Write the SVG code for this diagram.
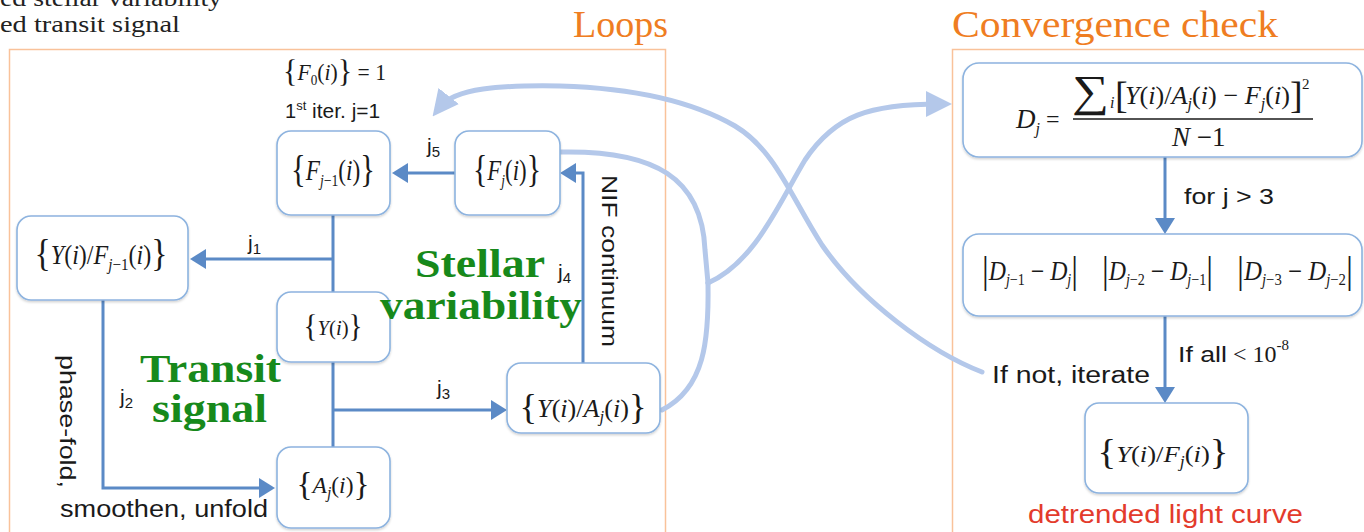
<svg xmlns="http://www.w3.org/2000/svg" width="1364" height="532" viewBox="0 0 1364 532">
  <style>
    .panel { fill: none; stroke: #f9c29a; stroke-width: 1.5; }
    .ptitle { font-family: "Liberation Serif", "Times New Roman", serif; font-size: 38px; fill: #ef7d22; }
    .box { fill: #ffffff; stroke: #8db3df; stroke-width: 1.6; filter: url(#sh); }
    .m { font-family: "Liberation Serif", "Times New Roman", "DejaVu Serif", serif; fill: #1a1a1a; }
    .it { font-style: italic; }
    .s { font-family: "Liberation Sans", Arial, sans-serif; fill: #1a1a1a; }
    .green { font-family: "Liberation Serif", "Times New Roman", serif; font-weight: bold; font-size: 39px; fill: #17891b; }
    .note { font-family: "Liberation Serif", "Times New Roman", serif; font-size: 23px; fill: #222; }
    .flow { fill: none; stroke: #5b8ac6; stroke-width: 3; marker-end: url(#ah); }
    .trunk { fill: none; stroke: #5b8ac6; stroke-width: 3; }
    .loop { fill: none; stroke: #b4c8ea; stroke-width: 5; stroke-linecap: round; }
  </style>
  <defs>
    <filter id="sh" x="-10%" y="-10%" width="120%" height="130%">
      <feDropShadow dx="0" dy="1.5" stdDeviation="1" flood-color="#000" flood-opacity="0.18"/>
    </filter>
    <marker id="ah" markerUnits="userSpaceOnUse" markerWidth="16" markerHeight="20" refX="6" refY="10" orient="auto">
      <path d="M0,0 L16,10 L0,20 z" fill="#5b8ac6"/>
    </marker>
    <marker id="ahl" markerUnits="userSpaceOnUse" markerWidth="26" markerHeight="26" refX="14" refY="13" orient="auto">
      <path d="M0,0 L26,13 L0,26 z" fill="#b4c8ea"/>
    </marker>
  </defs>

  <rect width="1364" height="532" fill="#ffffff"/>

  <!-- clipped caption lines at the top left -->
  <text class="note" x="0" y="6" textLength="222" lengthAdjust="spacingAndGlyphs">ed stellar variability</text>
  <text class="note" x="0" y="32" textLength="180" lengthAdjust="spacingAndGlyphs">ed transit signal</text>

  <!-- panels -->
  <g id="panel-loops">
    <rect class="panel" x="9.5" y="49.5" width="656" height="500"/>
    <text class="ptitle" x="668" y="37" text-anchor="end">Loops</text>
  </g>
  <g id="panel-convergence">
    <rect class="panel" x="952.5" y="49.5" width="430" height="500"/>
    <text class="ptitle" x="952" y="37" textLength="326" lengthAdjust="spacingAndGlyphs">Convergence check</text>
  </g>

  <!-- connectors -->
  <g id="connectors">
    <path class="flow" d="M455,173 L402,173"/>
    <path class="trunk" d="M333,215 L333,292 M333,362 L333,447"/>
    <path class="flow" d="M333,259 L200,259"/>
    <path class="flow" d="M333,410 L497,410"/>
    <path class="flow" d="M103,300 L103,488 L265,488"/>
    <path class="flow" d="M583,363 L583,173 L570,173"/>
    <path class="flow" d="M1165,157 L1165,224"/>
    <path class="flow" d="M1165,316 L1165,393"/>

    <!-- outputs of the loop gathered and sent to the convergence check -->
    <path class="loop" d="M560,152 C655,150 702,178 705,250 L708,283"/>
    <path class="loop" d="M708,283 C709,340 705,388 662,410"/>
    <path class="loop" marker-end="url(#ahl)" d="M708,283 C755,262 778,205 805,160 C835,115 870,104 940,104"/>
    <!-- iterate again -->
    <path class="loop" marker-end="url(#ahl)" d="M982,372 C930,352 860,300 822,245 C790,195 775,150 735,126 C690,100 630,88 560,86 C500,85 455,88 440,107"/>

    <!-- connector labels -->
    <text class="s" x="427" y="153" font-size="21">j<tspan font-size="15" dy="4">5</tspan></text>
    <text class="s" x="248" y="250" font-size="21">j<tspan font-size="15" dy="4">1</tspan></text>
    <text class="s" x="120" y="404" font-size="21">j<tspan font-size="15" dy="4">2</tspan></text>
    <text class="s" x="437" y="395" font-size="21">j<tspan font-size="15" dy="4">3</tspan></text>
    <text class="s" x="558" y="279" font-size="21">j<tspan font-size="15" dy="4">4</tspan></text>
    <text class="s" font-size="22" transform="translate(602,175) rotate(90)" textLength="172" lengthAdjust="spacingAndGlyphs">NIF continuum</text>
    <text class="s" font-size="22" transform="translate(60,355) rotate(90)" textLength="133" lengthAdjust="spacingAndGlyphs">phase-fold,</text>
    <text class="s" x="60" y="517" font-size="23" textLength="208" lengthAdjust="spacingAndGlyphs">smoothen, unfold</text>
    <text class="s" x="1184" y="204" font-size="22" textLength="90" lengthAdjust="spacingAndGlyphs">for j &gt; 3</text>
    <text class="s" x="1178" y="362" font-size="22" textLength="49" lengthAdjust="spacingAndGlyphs">If all</text>
    <text class="m" x="1233" y="362" font-size="24">&lt; 10<tspan font-size="15" dy="-12">-8</tspan></text>
    <text class="s" x="992" y="383" font-size="23" textLength="158" lengthAdjust="spacingAndGlyphs">If not, iterate</text>
  </g>

  <!-- start values -->
  <g id="start">
    <text class="m" x="283" y="80" font-size="23" textLength="103" lengthAdjust="spacingAndGlyphs"><tspan font-size="32" dy="2">{</tspan><tspan class="it" dy="-2">F</tspan><tspan font-size="14" dy="5">0</tspan><tspan dy="-5">(</tspan><tspan class="it">i</tspan>)<tspan font-size="32" dy="2">}</tspan><tspan dy="-2"> = 1</tspan></text>
    <text class="s" x="285" y="118" font-size="20">1<tspan font-size="13" dy="-8">st</tspan><tspan dy="8" textLength="74" lengthAdjust="spacingAndGlyphs"> iter. j=1</tspan></text>
  </g>

  <!-- nodes of the loop -->
  <g id="node-Fjm1">
    <rect class="box" x="277" y="131" width="113" height="84" rx="14"/>
    <text class="m" x="333" y="180" font-size="29" text-anchor="middle" textLength="84" lengthAdjust="spacingAndGlyphs"><tspan font-size="38" dy="2">{</tspan><tspan class="it" dy="-2">F</tspan><tspan class="it" font-size="17" dy="6">j</tspan><tspan font-size="17">−1</tspan><tspan dy="-6">(</tspan><tspan class="it">i</tspan>)<tspan font-size="38" dy="2">}</tspan></text>
  </g>
  <g id="node-Fj">
    <rect class="box" x="455" y="131" width="105" height="84" rx="14"/>
    <text class="m" x="507" y="180" font-size="29" text-anchor="middle" textLength="68" lengthAdjust="spacingAndGlyphs"><tspan font-size="38" dy="2">{</tspan><tspan class="it" dy="-2">F</tspan><tspan class="it" font-size="17" dy="6">j</tspan><tspan dy="-6">(</tspan><tspan class="it">i</tspan>)<tspan font-size="38" dy="2">}</tspan></text>
  </g>
  <g id="node-YFjm1">
    <rect class="box" x="17" y="216" width="171" height="84" rx="14"/>
    <text class="m" x="101" y="264" font-size="27" text-anchor="middle" textLength="133" lengthAdjust="spacingAndGlyphs"><tspan font-size="38" dy="2">{</tspan><tspan class="it" dy="-2">Y</tspan>(<tspan class="it">i</tspan>)/<tspan class="it">F</tspan><tspan class="it" font-size="17" dy="6">j</tspan><tspan font-size="17">−1</tspan><tspan dy="-6">(</tspan><tspan class="it">i</tspan>)<tspan font-size="38" dy="2">}</tspan></text>
  </g>
  <g id="node-Y">
    <rect class="box" x="277" y="292" width="113" height="70" rx="14"/>
    <text class="m" x="333" y="335" font-size="22" text-anchor="middle" textLength="59" lengthAdjust="spacingAndGlyphs"><tspan font-size="31" dy="2">{</tspan><tspan class="it" dy="-2">Y</tspan>(<tspan class="it">i</tspan>)<tspan font-size="31" dy="2">}</tspan></text>
  </g>
  <g id="node-Aj">
    <rect class="box" x="277" y="447" width="113" height="81" rx="14"/>
    <text class="m" x="333" y="493" font-size="24" text-anchor="middle" textLength="73" lengthAdjust="spacingAndGlyphs"><tspan font-size="34" dy="2">{</tspan><tspan class="it" dy="-2">A</tspan><tspan class="it" font-size="16" dy="5">j</tspan><tspan dy="-5">(</tspan><tspan class="it">i</tspan>)<tspan font-size="34" dy="2">}</tspan></text>
  </g>
  <g id="node-YAj">
    <rect class="box" x="507" y="363" width="153" height="70" rx="14"/>
    <text class="m" x="583" y="417" font-size="25" text-anchor="middle" textLength="127" lengthAdjust="spacingAndGlyphs"><tspan font-size="35" dy="2">{</tspan><tspan class="it" dy="-2">Y</tspan>(<tspan class="it">i</tspan>)/<tspan class="it">A</tspan><tspan class="it" font-size="16" dy="5">j</tspan><tspan dy="-5">(</tspan><tspan class="it">i</tspan>)<tspan font-size="35" dy="2">}</tspan></text>
  </g>

  <!-- region labels -->
  <g id="labels">
    <text class="green" x="415" y="277" textLength="130" lengthAdjust="spacingAndGlyphs">Stellar</text>
    <text class="green" x="380" y="319" textLength="202" lengthAdjust="spacingAndGlyphs">variability</text>
    <text class="green" x="140" y="382" textLength="141" lengthAdjust="spacingAndGlyphs">Transit</text>
    <text class="green" x="152" y="422" textLength="115" lengthAdjust="spacingAndGlyphs">signal</text>
  </g>

  <!-- nodes of the convergence check -->
  <g id="node-Dj">
    <rect class="box" x="963" y="63" width="399" height="94" rx="16"/>
    <text class="m it" x="1016" y="128" font-size="27">D<tspan font-size="16" dy="6">j</tspan></text>
    <text class="m" x="1046" y="127" font-size="24">=</text>
    <line x1="1073" y1="119" x2="1313" y2="119" stroke="#1a1a1a" stroke-width="1.3"/>
    <text class="m" x="1072" y="106" font-size="44" textLength="37" lengthAdjust="spacingAndGlyphs">∑</text>
    <text class="m it" x="1110" y="108" font-size="16">i</text>
    <text class="m" x="1115" y="108" font-size="38">[</text>
    <text class="m" x="1125" y="104" font-size="26" textLength="165" lengthAdjust="spacingAndGlyphs"><tspan class="it">Y</tspan>(<tspan class="it">i</tspan>)/<tspan class="it">A</tspan><tspan class="it" font-size="16" dy="5">j</tspan><tspan dy="-5">(</tspan><tspan class="it">i</tspan>) − <tspan class="it">F</tspan><tspan class="it" font-size="16" dy="5">j</tspan><tspan dy="-5">(</tspan><tspan class="it">i</tspan>)</text>
    <text class="m" x="1290" y="108" font-size="38">]</text>
    <text class="m" x="1302" y="89" font-size="15">2</text>
    <text class="m" x="1172" y="146" font-size="27"><tspan class="it">N</tspan> −1</text>
  </g>
  <g id="node-diffs">
    <rect class="box" x="963" y="234" width="399" height="82" rx="16"/>
    <text class="m" x="982" y="280" font-size="27" textLength="96" lengthAdjust="spacingAndGlyphs"><tspan font-size="38" dy="3">|</tspan><tspan class="it" dy="-3">D</tspan><tspan class="it" font-size="16" dy="5">j</tspan><tspan font-size="16">−1</tspan><tspan dy="-5"> − </tspan><tspan class="it">D</tspan><tspan class="it" font-size="16" dy="5">j</tspan><tspan font-size="38" dy="-2">|</tspan></text>
    <text class="m" x="1102" y="280" font-size="27" textLength="111" lengthAdjust="spacingAndGlyphs"><tspan font-size="38" dy="3">|</tspan><tspan class="it" dy="-3">D</tspan><tspan class="it" font-size="16" dy="5">j</tspan><tspan font-size="16">−2</tspan><tspan dy="-5"> − </tspan><tspan class="it">D</tspan><tspan class="it" font-size="16" dy="5">j</tspan><tspan font-size="16">−1</tspan><tspan font-size="38" dy="-2">|</tspan></text>
    <text class="m" x="1237" y="280" font-size="27" textLength="116" lengthAdjust="spacingAndGlyphs"><tspan font-size="38" dy="3">|</tspan><tspan class="it" dy="-3">D</tspan><tspan class="it" font-size="16" dy="5">j</tspan><tspan font-size="16">−3</tspan><tspan dy="-5"> − </tspan><tspan class="it">D</tspan><tspan class="it" font-size="16" dy="5">j</tspan><tspan font-size="16">−2</tspan><tspan font-size="38" dy="-2">|</tspan></text>
  </g>
  <g id="node-YFj">
    <rect class="box" x="1085" y="403" width="163" height="90" rx="14"/>
    <text class="m" x="1163" y="462" font-size="24" text-anchor="middle" textLength="131" lengthAdjust="spacingAndGlyphs"><tspan font-size="35" dy="2">{</tspan><tspan class="it" dy="-2">Y</tspan>(<tspan class="it">i</tspan>)/<tspan class="it">F</tspan><tspan class="it" font-size="16" dy="5">j</tspan><tspan dy="-5">(</tspan><tspan class="it">i</tspan>)<tspan font-size="35" dy="2">}</tspan></text>
    <text class="s" x="1028" y="523" font-size="25" style="fill:#e33b2c" textLength="275" lengthAdjust="spacingAndGlyphs">detrended light curve</text>
  </g>
</svg>
